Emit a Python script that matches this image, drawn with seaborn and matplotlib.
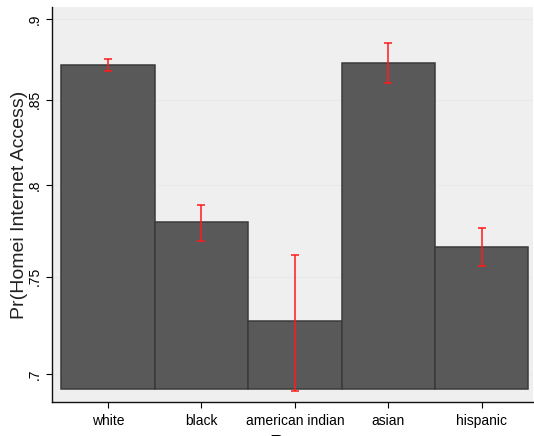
import matplotlib
matplotlib.use("Agg")
import matplotlib.pyplot as plt
import matplotlib.ticker as mticker
import seaborn as sns
import pandas as pd

# Predicted probability of home internet access by race, with error ranges
races = ["white", "black", "american indian", "asian", "hispanic"]
prob = [0.8710, 0.7793, 0.7268, 0.8726, 0.7659]
err = [0.0036, 0.0099, 0.0350, 0.0124, 0.0103]
bar_base = 0.6925

y_ticks = [0.7, 0.75, 0.8, 0.85, 0.9]
y_tick_labels = [".7", ".75", ".8", ".85", ".9"]

plt.rcParams["font.family"] = ["Liberation Sans", "DejaVu Sans"]

df = pd.DataFrame({"Race": races, "prob": prob})

fig = plt.figure(figsize=(5.34, 4.36), dpi=100)
ax = fig.add_axes([52 / 534, 34 / 436, 481 / 534, 395 / 436])
ax.set_facecolor("#efefef")

sns.barplot(data=df, x="Race", y="prob", order=races, errorbar=None,
            width=1.0, color="#595959", saturation=1, edgecolor="#3a3a3a",
            linewidth=1.1, ax=ax, zorder=2)

# bars rise from a common baseline rather than zero
for patch in ax.patches:
    top = patch.get_y() + patch.get_height()
    patch.set_y(bar_base)
    patch.set_height(top - bar_base)

ax.errorbar(x=range(len(races)), y=prob, yerr=err, fmt="none",
            ecolor="#ff1a1a", elinewidth=1.1, capsize=2.6, capthick=1.1,
            zorder=3)

ax.set_yscale("log")
ax.set_ylim(0.6863, 0.9077)
ax.set_xlim(-0.6, 4.55)
ax.yaxis.set_major_locator(mticker.FixedLocator(y_ticks))
ax.yaxis.set_major_formatter(mticker.FixedFormatter(y_tick_labels))
ax.yaxis.set_minor_locator(mticker.NullLocator())

ax.grid(axis="y", color="#e4eaea", linewidth=0.8, zorder=0)
ax.set_axisbelow(True)

for side in ("top", "right"):
    ax.spines[side].set_visible(False)
for side in ("left", "bottom"):
    ax.spines[side].set_color("#111111")
    ax.spines[side].set_linewidth(1.0)

ax.tick_params(axis="y", labelrotation=90, length=4.5, width=0.8,
               labelsize=10, pad=3)
ax.tick_params(axis="x", length=4.5, width=0.8, labelsize=10, pad=4)
for lbl in ax.get_yticklabels():
    lbl.set_va("center")

ax.set_ylabel("Pr(Homei Internet Access)", fontsize=14, labelpad=0,
              color="#222222")
ax.set_xlabel("Race", fontsize=14, labelpad=5)

fig.savefig("out.png", dpi=100)
